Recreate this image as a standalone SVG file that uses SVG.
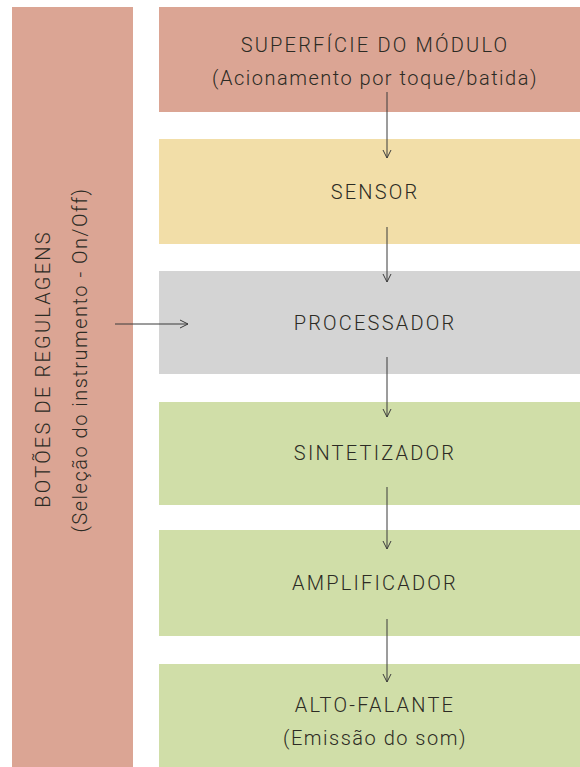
<svg xmlns="http://www.w3.org/2000/svg" width="580" height="767" viewBox="0 0 580 767">
  <style>
    .lbl { font-family: Roboto, "Liberation Sans", sans-serif; font-weight: 300; font-size: 20px; fill: #2c2b24; text-anchor: middle; letter-spacing: 1.5px; }
    .caps { letter-spacing: 2.2px; }
    .salmon { fill: #dba594; }
    .yellow { fill: #f2dea8; }
    .gray { fill: #d4d4d4; }
    .green { fill: #d0dea8; }
    .conn { stroke: #3b3b3b; stroke-width: 1; fill: none; }
  </style>
  <defs>
    <marker id="head" viewBox="0 0 10 10" refX="9" refY="5" markerWidth="10" markerHeight="10" markerUnits="userSpaceOnUse" orient="auto">
      <path d="M1,1 L9,5 L1,9" fill="none" stroke="#3b3b3b" stroke-width="1"/>
    </marker>
  </defs>
  <rect width="580" height="767" fill="#ffffff"/>

  <g id="botoes">
    <rect class="salmon" x="12" y="7" width="121" height="760"/>
    <text class="lbl caps" transform="translate(50,369) rotate(-90)">BOTÕES DE REGULAGENS</text>
    <text class="lbl" transform="translate(87,360) rotate(-90)">(Seleção do instrumento - On/Off)</text>
  </g>

  <g id="superficie">
    <rect class="salmon" x="159" y="7" width="430" height="105"/>
    <text class="lbl caps" x="375" y="52">SUPERFÍCIE DO MÓDULO</text>
    <text class="lbl" x="375" y="85">(Acionamento por toque/batida)</text>
  </g>

  <g id="sensor">
    <rect class="yellow" x="159" y="139" width="430" height="105"/>
    <text class="lbl caps" x="375" y="199">SENSOR</text>
  </g>

  <g id="processador">
    <rect class="gray" x="159" y="271" width="430" height="103"/>
    <text class="lbl caps" x="375" y="330">PROCESSADOR</text>
  </g>

  <g id="sintetizador">
    <rect class="green" x="159" y="402" width="430" height="103"/>
    <text class="lbl caps" x="375" y="460">SINTETIZADOR</text>
  </g>

  <g id="amplificador">
    <rect class="green" x="159" y="530" width="430" height="106"/>
    <text class="lbl caps" x="375" y="590">AMPLIFICADOR</text>
  </g>

  <g id="alto-falante">
    <rect class="green" x="159" y="664" width="430" height="103"/>
    <text class="lbl caps" x="375" y="712">ALTO-FALANTE</text>
    <text class="lbl" x="375" y="745">(Emissão do som)</text>
  </g>

  <g id="connectors">
    <line class="conn" x1="387" y1="92" x2="387" y2="158" marker-end="url(#head)"/>
    <line class="conn" x1="387" y1="227" x2="387" y2="282" marker-end="url(#head)"/>
    <line class="conn" x1="387" y1="357" x2="387" y2="417" marker-end="url(#head)"/>
    <line class="conn" x1="387" y1="487" x2="387" y2="549" marker-end="url(#head)"/>
    <line class="conn" x1="387" y1="619" x2="387" y2="682" marker-end="url(#head)"/>
    <line class="conn" x1="115" y1="324" x2="188" y2="324" marker-end="url(#head)"/>
  </g>
</svg>
